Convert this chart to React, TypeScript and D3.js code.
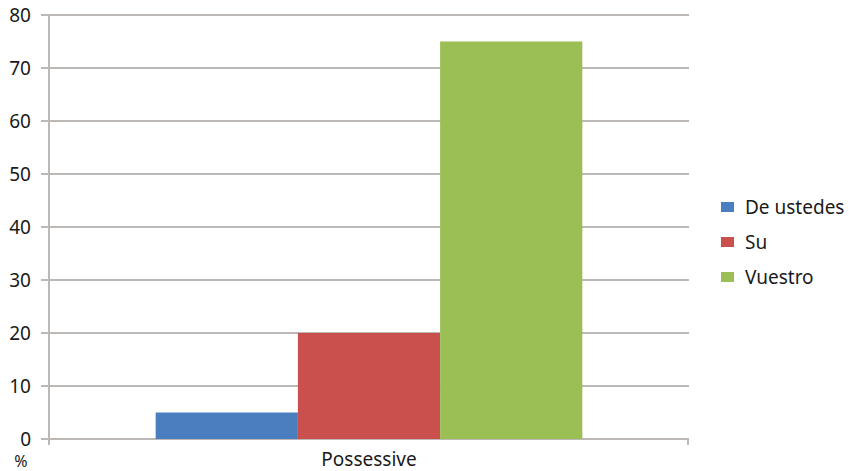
import React from "react";
import * as d3 from "d3";

const categories = ["Possessive"];
const seriesNames = ["De ustedes", "Su", "Vuestro"];
const seriesValues = [5, 20, 75];
const seriesColors = ["#4a7ebf", "#c9504d", "#9bbf55"];
const yTicks = [0, 10, 20, 30, 40, 50, 60, 70, 80];

const W = 850;
const H = 471;
const plot = { left: 49, right: 689, top: 15, bottom: 439 };
const gridColor = "#bcb8b6";
const font = "'Noto Sans', 'Open Sans', sans-serif";
const textColor = "#1a1a1a";

export default function App() {
  const y = d3.scaleLinear().domain([0, 80]).range([plot.bottom, plot.top]);
  const x0 = d3
    .scaleBand<string>()
    .domain(categories)
    .range([plot.left, plot.right])
    .paddingInner(0)
    .paddingOuter(0.25);
  const x1 = d3
    .scaleBand<string>()
    .domain(seriesNames)
    .range([0, x0.bandwidth()])
    .padding(0);

  return (
    <svg
      width={W}
      height={H}
      style={{ position: "absolute", left: 0, top: 0, background: "#fff" }}
      fontFamily={font}
    >
      {/* horizontal gridlines with left ticks */}
      {yTicks.map((t) => (
        <g key={t}>
          <line
            x1={plot.left - 8}
            x2={plot.right}
            y1={y(t)}
            y2={y(t)}
            stroke={gridColor}
            strokeWidth={2}
          />
          <text
            x={31}
            y={y(t)}
            dy="0.35em"
            textAnchor="end"
            fontSize={19}
            fill={textColor}
          >
            {t}
          </text>
        </g>
      ))}
      {/* y axis */}
      <line
        x1={plot.left}
        x2={plot.left}
        y1={plot.top}
        y2={plot.bottom + 6}
        stroke={gridColor}
        strokeWidth={2}
      />
      {/* right tick on x axis */}
      <line
        x1={plot.right - 1}
        x2={plot.right - 1}
        y1={plot.bottom}
        y2={plot.bottom + 6}
        stroke={gridColor}
        strokeWidth={2}
      />
      {/* bars */}
      {categories.map((c) => (
        <g key={c} transform={`translate(${x0(c)},0)`}>
          {seriesNames.map((s, i) => (
            <rect
              key={s}
              x={x1(s)}
              width={x1.bandwidth()}
              y={y(seriesValues[i])}
              height={y(0) - y(seriesValues[i])}
              fill={seriesColors[i]}
            />
          ))}
          <text
            x={x0.bandwidth() / 2}
            y={466}
            textAnchor="middle"
            fontSize={19}
            fill={textColor}
          >
            {c}
          </text>
        </g>
      ))}
      <text x={21} y={467} textAnchor="middle" fontSize={16} fill={textColor}>
        %
      </text>
      {/* legend */}
      {seriesNames.map((s, i) => (
        <g key={s} transform={`translate(721,${207 + i * 35})`}>
          <rect x={0} y={-5} width={13} height={10} fill={seriesColors[i]} />
          <text x={24} y={0} dy="0.35em" fontSize={19} fill={textColor}>
            {s}
          </text>
        </g>
      ))}
    </svg>
  );
}
